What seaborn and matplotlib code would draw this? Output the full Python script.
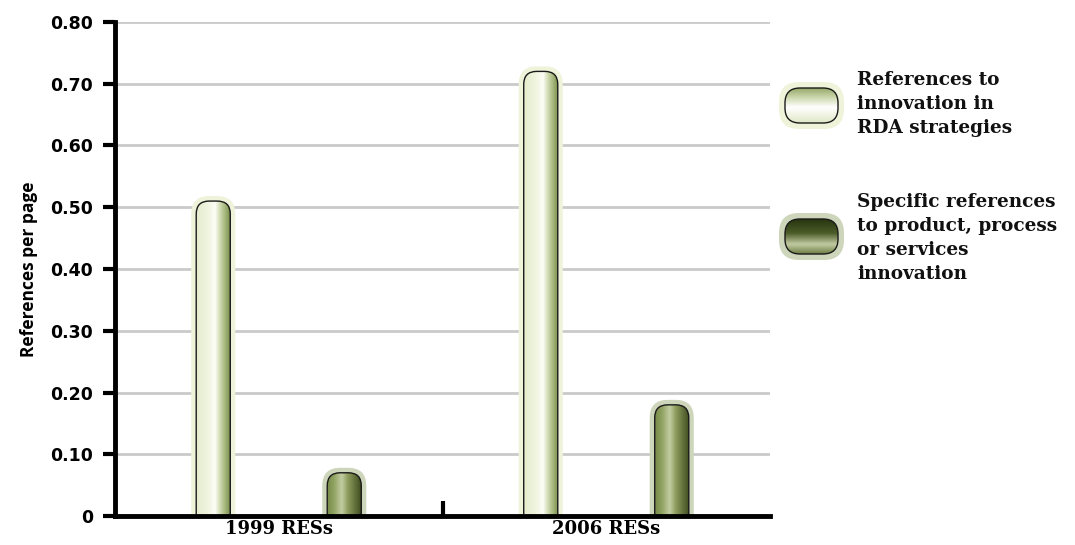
import numpy as np
import pandas as pd
import matplotlib
matplotlib.use("Agg")
import matplotlib.pyplot as plt
import seaborn as sns
from matplotlib.patches import FancyBboxPatch
from matplotlib.colors import LinearSegmentedColormap

# data
groups = ["1999 RESs", "2006 RESs"]
series = ["References to innovation in RDA strategies",
          "Specific references to product, process or services innovation"]
legend_lines = [["References to", "innovation in", "RDA strategies"],
                ["Specific references", "to product, process", "or services", "innovation"]]
innovation_refs = [0.51, 0.72]
specific_refs = [0.07, 0.18]
yticks = [0, 0.1, 0.2, 0.3, 0.4, 0.5, 0.6, 0.7, 0.8]
ytick_labels = ["0", "0.10", "0.20", "0.30", "0.40", "0.50", "0.60", "0.70", "0.80"]

df = pd.DataFrame({
    "group": groups * 2,
    "series": [series[0]] * 2 + [series[1]] * 2,
    "value": innovation_refs + specific_refs,
})

# gradient fills (bar: left->right, legend glyph: top->bottom)
bar_cmaps = [
    LinearSegmentedColormap.from_list("light", [
        (0.0, "#e6ecce"), (0.3, "#eef3dc"), (0.55, "#fdfdf7"),
        (0.65, "#dbe4c0"), (0.84, "#a4b57a"), (1.0, "#728a44")]),
    LinearSegmentedColormap.from_list("dark", [
        (0.0, "#788b48"), (0.2, "#91a362"), (0.42, "#c3cda3"),
        (0.6, "#8c9c5c"), (1.0, "#3a481c")]),
]
legend_cmaps = [
    LinearSegmentedColormap.from_list("light_v", [
        (0.0, "#95a868"), (0.3, "#d3ddb6"), (0.55, "#ffffff"), (1.0, "#dfe7c6")]),
    LinearSegmentedColormap.from_list("dark_v", [
        (0.0, "#27350f"), (0.4, "#4b5c28"), (0.72, "#c2cba3"), (1.0, "#6c7d42")]),
]
glow_colors = ["#eef3d9", "#cdd5ba"]
serif = ["DejaVu Serif"]

sns.set_style("white")
plt.rcParams["font.family"] = ["DejaVu Sans"]
plt.rcParams["text.color"] = "black"
plt.rcParams["xtick.color"] = "black"
plt.rcParams["ytick.color"] = "black"
plt.rcParams["axes.labelcolor"] = "black"

fig = plt.figure(figsize=(10.75, 5.45), dpi=100)
ax = fig.add_axes([115 / 1075, 29 / 545, 655 / 1075, 494 / 545])

sns.barplot(data=df, x="group", y="value", hue="series", order=groups,
            hue_order=series, width=0.8, gap=0.74, errorbar=None,
            legend=False, ax=ax)
ax.set_xlim(-0.5, 1.5)
ax.set_ylim(0, 0.8)
fig.canvas.draw()

# pixel -> data conversion for round corners
px_x = ax.transData.transform((1, 0))[0] - ax.transData.transform((0, 0))[0]
px_y = ax.transData.transform((0, 1))[1] - ax.transData.transform((0, 0))[1]
r_x, r_y = 13 / px_x, 13 / px_y
g_x, g_y = 5 / px_x, 5 / px_y
aspect = r_y / r_x
grad_h = np.linspace(0, 1, 256).reshape(1, -1)

for i, cont in enumerate(ax.containers):
    for p in cont.patches:
        x0, w, h = p.get_x(), p.get_width(), p.get_height()
        p.set_visible(False)
        glow = FancyBboxPatch((x0 - g_x, -3 * r_y), w + 2 * g_x, h + 3 * r_y + g_y,
                              boxstyle=f"round,pad=0,rounding_size={r_x + g_x}",
                              mutation_aspect=aspect, facecolor=glow_colors[i],
                              edgecolor="none", zorder=2.6)
        ax.add_patch(glow)
        shape = FancyBboxPatch((x0, -3 * r_y), w, h + 3 * r_y,
                               boxstyle=f"round,pad=0,rounding_size={r_x}",
                               mutation_aspect=aspect, facecolor="none",
                               edgecolor="#1a1a1a", lw=1.0, zorder=4)
        ax.add_patch(shape)
        im = ax.imshow(grad_h, cmap=bar_cmaps[i], extent=[x0, x0 + w, 0, h],
                       aspect="auto", interpolation="bicubic", zorder=3)
        im.set_clip_path(shape)

ax.set_xlim(-0.5, 1.5)
ax.set_ylim(0, 0.8)
ax.set_aspect("auto")

ax.set_axisbelow(True)
ax.yaxis.grid(True, color="#cacaca", lw=2)
ax.set_yticks(yticks)
ax.set_yticklabels(ytick_labels, fontsize=12.5, fontweight="bold")
ax.tick_params(axis="y", left=True, direction="out", length=9, width=3,
               color="black", pad=7)
ax.set_xticks([0, 1])
ax.set_xticklabels(groups, fontsize=13, fontweight="bold", family=serif)
ax.tick_params(axis="x", which="major", length=0, pad=3)
ax.set_xticks([0.5], minor=True)
ax.tick_params(axis="x", which="minor", bottom=True, direction="in", length=11,
               width=3, color="black")
ax.set_xlabel("")
ax.set_ylabel("References per page", fontsize=12.5, fontweight="bold",
              family=["Open Sans", "DejaVu Sans"])
ax.yaxis.set_label_coords(-77 / 655, 0.5)

for side in ["top", "right"]:
    ax.spines[side].set_visible(False)
for side in ["left", "bottom"]:
    ax.spines[side].set_linewidth(3.5)
    ax.spines[side].set_color("black")
    ax.spines[side].set_zorder(10)

# legend drawn in pixel coordinates on an overlay axes
lax = fig.add_axes([0, 0, 1, 1])
lax.set_xlim(0, 1075)
lax.set_ylim(545, 0)
lax.axis("off")
lax.patch.set_alpha(0)

grad_v = np.linspace(0, 1, 256).reshape(-1, 1)
glyph_tops = [88, 219]
text_centers = [104, 238]
for i in range(2):
    gx, gy, gw, gh = 785, glyph_tops[i], 53, 35
    lax.add_patch(FancyBboxPatch((gx - 6, gy - 6), gw + 12, gh + 12,
                                 boxstyle="round,pad=0,rounding_size=20",
                                 facecolor=glow_colors[i], edgecolor="none", zorder=1))
    shape = FancyBboxPatch((gx, gy), gw, gh, boxstyle="round,pad=0,rounding_size=15",
                           facecolor="none", edgecolor="#1a1a1a", lw=1.0, zorder=3)
    lax.add_patch(shape)
    im = lax.imshow(grad_v, cmap=legend_cmaps[i], extent=[gx, gx + gw, gy + gh, gy],
                    aspect="auto", interpolation="bicubic", zorder=2)
    im.set_clip_path(shape)
    lax.text(857, text_centers[i], "\n".join(legend_lines[i]), fontsize=13.3,
             fontweight="bold", family=serif, va="center", ha="left",
             linespacing=1.42, color="#111111")
lax.set_xlim(0, 1075)
lax.set_ylim(545, 0)

fig.savefig("out.png", dpi=100)
